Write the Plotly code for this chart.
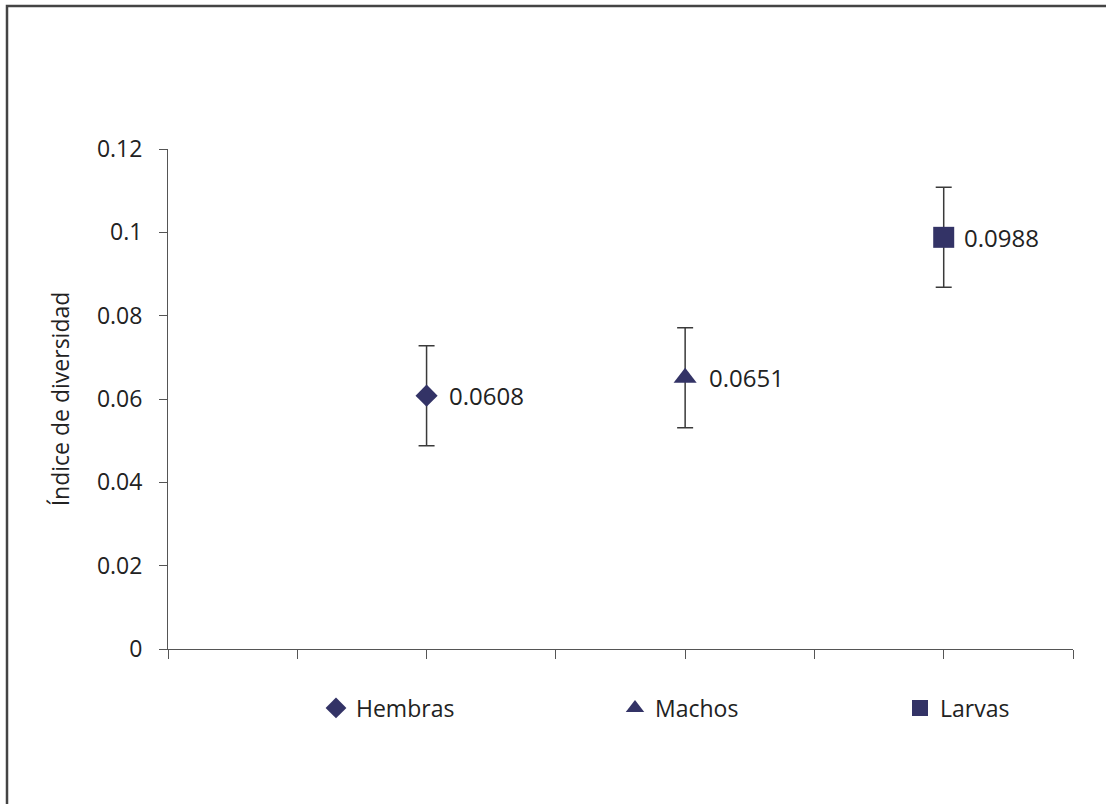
import plotly.graph_objects as go

# Diversity index per group, with symmetric error
groups = ["Hembras", "Machos", "Larvas"]
values = [0.0608, 0.0651, 0.0988]
errors = [0.012, 0.012, 0.012]
symbols = ["diamond", "triangle-up", "square"]
sizes = [17, 20, 21]
y_ticks = [0, 0.02, 0.04, 0.06, 0.08, 0.1, 0.12]
y_tick_text = ["0", "0.02", "0.04", "0.06", "0.08", "0.1", "0.12"]

W, H = 1106, 804
ML, MR, MT, MB = 168, 33, 149, 155
FONT = "Open Sans, Noto Sans, sans-serif"
NAVY = "#333366"
INK = "#222222"
pw, ph = W - ML - MR, H - MT - MB

# left edge (px) of each legend block and value-label offsets (px)
legend_left = [316, 615, 900]
label_shift = [20, 22, 18]
legend_ids = ["legend", "legend2", "legend3"]

fig = go.Figure()
for i, (g, v, e, s, sz) in enumerate(zip(groups, values, errors, symbols, sizes)):
    xpos = 2 * (i + 1)
    fig.add_trace(go.Scatter(
        x=[xpos], y=[v], name=g, mode="markers", legend=legend_ids[i],
        marker=dict(symbol=s, size=sz, color=NAVY, line=dict(width=0)),
        error_y=dict(type="data", array=[e], visible=True,
                     color="#3a3a3a", thickness=1.5, width=8),
    ))
    fig.add_annotation(x=xpos, y=v, xref="x", yref="y", text=f"{v:.4f}",
                       showarrow=False, xanchor="left", yanchor="middle",
                       xshift=label_shift[i],
                       font=dict(family=FONT, size=24, color=INK))

# Outer chart frame (right and bottom edges run past the page)
fig.add_shape(type="rect", xref="paper", yref="paper",
              x0=(7 - ML) / pw, x1=(W + 10 - ML) / pw,
              y0=(H - MB - (H + 10)) / ph, y1=(H - MB - 6) / ph,
              line=dict(color="#444444", width=2.5), fillcolor="rgba(0,0,0,0)",
              layer="above")

legend_common = dict(orientation="h", xanchor="left", yanchor="middle",
                     y=-(708 - 649) / ph, itemsizing="trace",
                     bgcolor="rgba(0,0,0,0)",
                     font=dict(family=FONT, size=23, color=INK))

fig.update_layout(
    width=W, height=H,
    margin=dict(l=ML, r=MR, t=MT, b=MB),
    paper_bgcolor="white", plot_bgcolor="white",
    font=dict(family=FONT, size=22, color=INK),
    showlegend=True,
    legend=dict(x=(legend_left[0] - ML) / pw, **legend_common),
    legend2=dict(x=(legend_left[1] - ML) / pw, **legend_common),
    legend3=dict(x=(legend_left[2] - ML) / pw, **legend_common),
    xaxis=dict(range=[0, 7], tickvals=list(range(8)), showticklabels=False,
               ticks="outside", ticklen=9, tickcolor="#555555", tickwidth=1,
               showline=True, linecolor="#555555", linewidth=1,
               showgrid=False, zeroline=False, fixedrange=True),
    yaxis=dict(range=[0, 0.12], tickvals=y_ticks, ticktext=y_tick_text,
               ticks="outside", ticklen=8, tickcolor="#555555", tickwidth=1,
               ticklabelstandoff=12,
               showline=True, linecolor="#555555", linewidth=1,
               showgrid=False, zeroline=False, fixedrange=True,
               tickfont=dict(family=FONT, size=23, color=INK),
               title=dict(text="Índice de diversidad", standoff=20,
                          font=dict(family=FONT, size=23, color=INK))),
)

fig.write_html("out.html")
